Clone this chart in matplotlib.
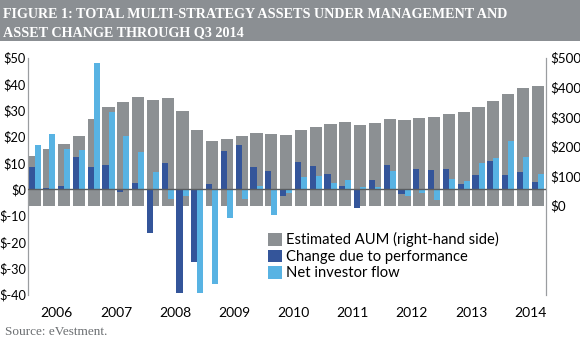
import numpy as np
import matplotlib
matplotlib.use("Agg")
import matplotlib.pyplot as plt
from matplotlib.patches import Rectangle, Patch

# quarterly data, 2006 Q1 .. 2014 Q3
aum = [169, 192, 209, 236, 292, 332, 351, 367, 357, 362, 321, 254,
       220, 225, 236, 245, 243, 239, 254, 267, 275, 281, 274, 279,
       294, 290, 296, 299, 311, 316, 332, 354, 378, 397, 405]
performance = [8.6, 0.6, 1.3, 12.4, 8.6, 9.2, -0.9, 2.3, -16.7, 10.1, -39.5, -27.5,
               1.9, 14.4, 16.7, 8.5, 6.8, -2.5, 10.5, 8.9, 5.7, 1.4, -7.0, 3.5,
               9.2, -1.8, 7.6, 7.2, 7.7, 1.8, 5.4, 10.8, 5.4, 6.6, 2.7]
flow = [16.7, 20.9, 15.2, 14.9, 47.9, 29.3, 20.3, 14.1, 6.5, -3.8, -2.4, -39.5,
        -36.0, -11.0, -3.8, 1.4, -9.8, -1.3, 4.5, 5.1, 2.5, 3.5, 0.8, 0.8,
        7.0, -2.4, -1.5, -4.1, 3.9, 3.3, 9.9, 11.9, 18.4, 12.4, 5.7]
years = ["2006", "2007", "2008", "2009", "2010", "2011", "2012", "2013", "2014"]
left_ticks = [50, 40, 30, 20, 10, 0, -10, -20, -30, -40]
right_ticks = [500, 400, 300, 200, 100, 0]

GRAY = "#8c9093"
DARK = "#34559a"
LIGHT = "#58b3e3"
SPINE = "#9a9da0"

plt.rcParams["font.family"] = ["Lato", "DejaVu Sans"]

fig = plt.figure(figsize=(5.8, 3.58), dpi=100)

# title banner
fig.patches.append(Rectangle((0, 1 - 41 / 358), 1, 41 / 358, transform=fig.transFigure,
                             facecolor="#8b8f93", edgecolor="none", zorder=0))
title_lines = ["FIGURE 1: TOTAL MULTI-STRATEGY ASSETS UNDER MANAGEMENT AND",
               "ASSET CHANGE THROUGH Q3 2014"]
for i, line in enumerate(title_lines):
    fig.text(0.006, 1 - (17.5 + 19 * i) / 358, line, color="white", fontsize=10.2,
             fontweight="bold", family="Liberation Serif", va="baseline", ha="left")

ax = fig.add_axes([28 / 580, 1 - 294.5 / 358, 518 / 580, (294.5 - 57.6) / 358])
ax2 = ax.twinx()
ax.set_zorder(ax2.get_zorder() + 1)
ax.patch.set_visible(False)

x = np.arange(len(aum))

ax2.bar(x, aum, width=0.83, color=GRAY, edgecolor="none")
ax.bar(x - 0.205, performance, width=0.41, color=DARK, edgecolor="none")
ax.bar(x + 0.205, flow, width=0.41, color=LIGHT, edgecolor="none")
ax.axhline(0, color="#5a5d60", lw=1.0, zorder=5)

ax.set_xlim(-0.44, 34.56)
ax.set_ylim(-40, 50)
ax2.set_ylim(-300, 500)

ax.set_yticks(left_ticks)
ax.set_yticklabels([f"${v}" for v in left_ticks], fontsize=9.2)
ax2.set_yticks(right_ticks)
ax2.set_yticklabels([f"${v}" for v in right_ticks], fontsize=9.6)
ax.set_xticks(np.arange(len(years)) * 4 + 1.5)
ax.set_xticklabels(years, fontsize=10)

for a in (ax, ax2):
    a.tick_params(length=0, colors="black")
    a.spines["top"].set_visible(False)
    a.spines["bottom"].set_visible(False)
    a.spines["left"].set_color(SPINE)
    a.spines["right"].set_color(SPINE)
ax.tick_params(axis="y", pad=1.5)
ax2.tick_params(axis="y", pad=3)
ax.tick_params(axis="x", pad=9)

handles = [Patch(facecolor=GRAY, label="Estimated AUM (right-hand side)"),
           Patch(facecolor=DARK, label="Change due to performance"),
           Patch(facecolor=LIGHT, label="Net investor flow")]
ax.legend(handles=handles, loc="upper left", bbox_to_anchor=(0.463, 0.262),
          frameon=False, fontsize=10.6, handlelength=0.95, handleheight=0.95,
          handletextpad=0.3, labelspacing=0.14, borderaxespad=0, borderpad=0)

fig.text(0.008, 1 - 332 / 358, "Source: eVestment.", color="#6b6e71",
         fontsize=9.5, family="Liberation Serif", va="center", ha="left")

fig.savefig("out.png", dpi=100)
